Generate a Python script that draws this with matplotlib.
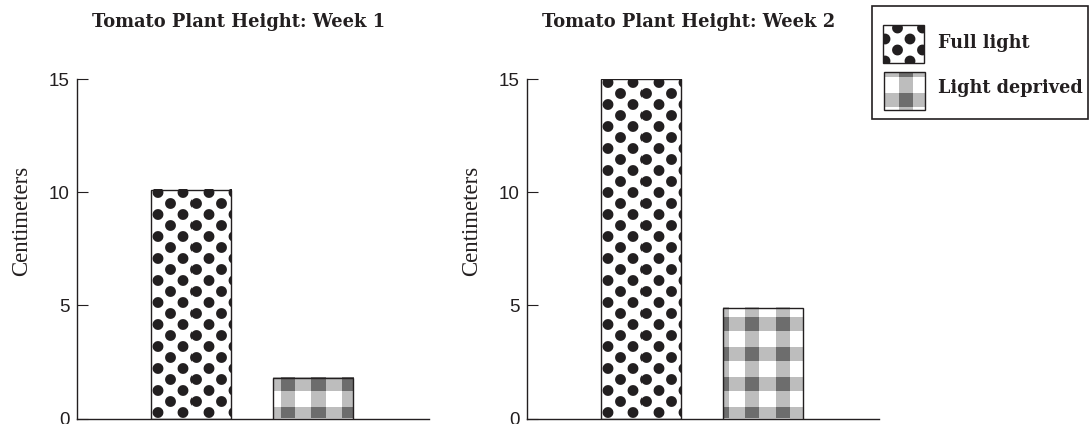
import matplotlib
matplotlib.use('Agg')
import matplotlib.pyplot as plt
from matplotlib.patches import Rectangle
import numpy as np

W, H = 1091, 424
DPI = 100

groups = ['Full light', 'Light deprived']
titles = ['Tomato Plant Height: Week 1', 'Tomato Plant Height: Week 2']
heights = {
    'Week 1': [10.1, 1.8],
    'Week 2': [15.0, 4.9],
}
yticks = [0, 5, 10, 15]
ylabel = 'Centimeters'

INK = '#231f20'
LIGHT = '#bdbdbd'
DARK = '#6d6d6d'


def dots_tex(w, h, x0=7.0, y0=5.5, dx=25.0, dy=11.0, r=5.4):
    # black dots on a staggered grid, rows counted from the bottom
    ys, xs = np.mgrid[0:h, 0:w] + 0.5
    cov = np.zeros((h, w))
    for j in range(-2, int(h / dy) + 3):
        shift = (j % 2) * dx / 2
        for i in range(-2, int(w / dx) + 3):
            cx = x0 + i * dx + shift
            cy = y0 + j * dy
            d = np.hypot(xs - cx, ys - cy)
            cov = np.maximum(cov, np.clip(r + 0.5 - d, 0, 1))
    ink = np.array(matplotlib.colors.to_rgb(INK))
    return 1 - cov[..., None] * (1 - ink)


def plaid_tex(w, h, x0=8.0, y0=-3.0, period=30.0, band=14.0):
    ys, xs = np.mgrid[0:h, 0:w] + 0.5
    v = ((xs - x0) % period) < band
    hz = ((ys - y0) % period) < band
    out = np.ones((h, w, 3))
    out[v | hz] = matplotlib.colors.to_rgb(LIGHT)
    out[v & hz] = matplotlib.colors.to_rgb(DARK)
    return out


def textures(w, h, kind, phase):
    if kind == 0:
        return dots_tex(w, h)
    return plaid_tex(w, h, x0=phase)


fig = plt.figure(figsize=(W / DPI, H / DPI), dpi=DPI)
fig.patch.set_facecolor('white')


def px_axes(left, right, top, bottom):
    return fig.add_axes([left / W, (H - bottom) / H, (right - left) / W, (bottom - top) / H])


x = np.arange(len(groups))
bw = 0.656
plaid_phase = [8.3, 21.7]
ax_left = [77, 527]
title_x = [239, 689]

for k, week in enumerate(heights):
    vals = heights[week]
    ax = px_axes(ax_left[k], ax_left[k] + 352, 79, 418.5)
    ax.set_xlim(-0.934, 1.951)
    ax.set_ylim(0, 15)
    ax.set_autoscale_on(False)

    for i, v in enumerate(vals):
        (x0, y0), (x1, y1) = ax.transData.transform([(x[i] - bw / 2, 0), (x[i] + bw / 2, v)])
        tw, th = max(int(round(x1 - x0)), 1), max(int(round(y1 - y0)), 1)
        tex = textures(tw, th, i, plaid_phase[k])
        ax.imshow(tex, extent=(x[i] - bw / 2, x[i] + bw / 2, 0, v), origin='lower',
                  interpolation='nearest', aspect='auto', zorder=2)
    ax.bar(x, vals, bw, facecolor='none', edgecolor=INK, linewidth=1.0, zorder=3)

    for s in ['top', 'right']:
        ax.spines[s].set_visible(False)
    for s in ['left', 'bottom']:
        ax.spines[s].set_color(INK)
        ax.spines[s].set_linewidth(1.0)
    ax.set_xticks([])
    ax.set_yticks(yticks)
    ax.tick_params(axis='y', direction='in', length=8.0, width=0.8, color=INK,
                   pad=5.5, labelsize=13.5, labelcolor=INK)
    for t in ax.get_yticklabels():
        t.set_fontfamily('Liberation Sans')

    ax.set_title(titles[k], x=(title_x[k] - ax_left[k]) / 352, pad=37.4,
                 fontfamily='DejaVu Serif', fontweight='bold', fontsize=12.9, color=INK)
    ax.set_ylabel(ylabel, fontfamily='Liberation Serif', fontsize=16.5, color=INK, va='center')
    ax.yaxis.set_label_coords((22 - 77) / 352, (418.5 - 221) / 339.5)

# legend box, drawn in figure pixels
lg = fig.add_axes([0, 0, 1, 1], zorder=5)
lg.set_xlim(0, W)
lg.set_ylim(H, 0)
lg.axis('off')
lg.add_patch(Rectangle((872, 6), 216, 113, facecolor='white', edgecolor=INK, linewidth=1.2))
boxes = [(883, 25, 41, 38), (884, 72, 41, 38)]
baselines = [47.7, 93]
for i, name in enumerate(groups):
    bx, by, bwid, bh = boxes[i]
    tex = dots_tex(bwid, bh, x0=2, y0=2) if i == 0 else plaid_tex(bwid, bh, x0=15.3, y0=3.3)
    lg.imshow(tex, extent=(bx, bx + bwid, by + bh, by), origin='lower',
              interpolation='nearest', aspect='auto', zorder=2)
    lg.add_patch(Rectangle((bx, by), bwid, bh, facecolor='none', edgecolor=INK,
                           linewidth=1.0, zorder=3))
    lg.text(938, baselines[i], name, fontfamily='DejaVu Serif', fontweight='bold',
            fontsize=12.7, color=INK, va='baseline', ha='left')

fig.savefig('out.png', dpi=DPI, facecolor='white')
